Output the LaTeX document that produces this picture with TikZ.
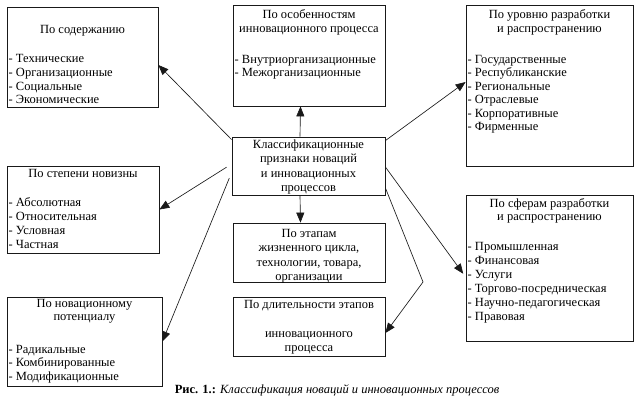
\documentclass[tikz,border=0pt]{standalone}
\usepackage{fontspec}
\setmainfont{Liberation Serif}
\usetikzlibrary{arrows.meta,calc}
\begin{document}
\begin{tikzpicture}[x=1pt,y=-1pt,
  box/.style={draw=black!90,line width=0.8pt,inner sep=0pt,fill=none},
  tl/.style={anchor=base,inner sep=0pt,font=\fontsize{12.5}{14}\selectfont,text=black},
  il/.style={anchor=base west,inner sep=0pt,font=\fontsize{12.5}{14}\selectfont,text=black},
  conn/.style={draw=black!90,line width=0.65pt,-{Triangle[length=10pt,width=8pt]}}]
\useasboundingbox (0,0) rectangle (637,405);
\fill[white] (0,0) rectangle (637,405);
% boxes
\node[box,minimum width=151pt,minimum height=100pt] (b1) at (82.5,57) {};
\node[box,minimum width=152pt,minimum height=101pt] (b2) at (309,55.5) {};
\node[box,minimum width=167pt,minimum height=161pt] (b3) at (549.5,85.5) {};
\node[box,minimum width=153pt,minimum height=58pt] (C) at (308.5,166) {};
\node[box,minimum width=152pt,minimum height=87pt] (b4) at (83,209.5) {};
\node[box,minimum width=152pt,minimum height=59pt] (b5) at (309,252.5) {};
\node[box,minimum width=152pt,minimum height=59pt] (b6) at (309,326.5) {};
\node[box,minimum width=167pt,minimum height=146pt] (b7) at (549.5,268) {};
\node[box,minimum width=155pt,minimum height=89pt] (b8) at (84.5,341.5) {};
% box 1
\node[tl] (t1) at (82.5,33) {По содержанию};
\foreach \t [count=\i] in {Технические,Организационные,Социальные,Экономические}
  \node[il,name=b1i\i] at (8.5,{62.5+13.8*(\i-1)}) {- \t};
% box 2
\node[tl] (t2a) at (309,18) {По особенностям};
\node[tl] (t2b) at (309,32.5) {инновационного процесса};
\foreach \t [count=\i] in {Внутриорганизационные,Межорганизационные}
  \node[il,name=b2i\i] at (234.5,{63+13.6*(\i-1)}) {- \t};
% box 3
\node[tl] (t3a) at (549.5,18) {По уровню разработки};
\node[tl] (t3b) at (549.5,32) {и распространению};
\foreach \t [count=\i] in {Государственные,Республиканские,Региональные,Отраслевые,Корпоративные,Фирменные}
  \node[il,name=b3i\i] at (467.5,{63+13.5*(\i-1)}) {- \t};
% center
\foreach \t [count=\i] in {Классификационные,признаки новаций,и инновационных,процессов}
  \node[tl,name=c\i] at (308.5,{148+14.6*(\i-1)}) {\t};
% box 4
\node[tl] (t4) at (83,177) {По степени новизны};
\foreach \t [count=\i] in {Абсолютная,Относительная,Условная,Частная}
  \node[il,name=b4i\i] at (8.5,{206+14.3*(\i-1)}) {- \t};
% box 5
\foreach \t [count=\i] in {По этапам,{жизненного цикла,},{технологии, товара,},организации}
  \node[tl,name=e\i] at (309,{237+14.5*(\i-1)}) {\t};
% box 6
\node[tl] (t6a) at (309,308) {По длительности этапов};
\node[tl] (t6b) at (309,337) {инновационного};
\node[tl] (t6c) at (309,351.5) {процесса};
% box 7
\node[tl] (t7a) at (549.5,207) {По сферам разработки};
\node[tl] (t7b) at (549.5,220.5) {и распространению};
\foreach \t [count=\i] in {Промышленная,Финансовая,Услуги,Торгово-посредническая,Научно-педагогическая,Правовая}
  \node[il,name=b7i\i] at (467.5,{250+14*(\i-1)}) {- \t};
% box 8
\node[tl] (t8a) at (84.5,307) {По новационному};
\node[tl] (t8b) at (84.5,320.5) {потенциалу};
\foreach \t [count=\i] in {Радикальные,Комбинированные,Модификационные}
  \node[il,name=b8i\i] at (8.5,{353+13.5*(\i-1)}) {- \t};
% caption
\node[tl,font=\fontsize{12.5}{14}\selectfont] (cap) at (337,393) {\textbf{Рис. 1.:} \textit{Классификация новаций и инновационных процессов}};
% connectors
\coordinate (k) at (423,282);
\draw[conn] ([yshift=-3pt]C.north west) -- ([yshift=-8pt]b1.east);
\draw[conn] ([xshift=-8.5pt]C.north) -- ([xshift=-8.5pt]b2.south);
\draw[conn] ([yshift=-4pt]C.north east) -- ([yshift=3.5pt]b3.west);
\draw[conn,shorten <=6pt] ([yshift=2pt]C.west) -- (b4.east);
\draw[conn,shorten <=6pt] ([yshift=-6.5pt]C.west) -- (b8.east);
\draw[conn] ([xshift=-8.5pt]C.south) -- ([xshift=-8.5pt]b5.north);
\draw[conn,shorten >=4pt] ([yshift=-1pt]C.east) -- ([yshift=-9pt]b7.west);
\draw[conn] ([yshift=-22pt]C.east) -- (k) -- ([yshift=-6.5pt]b6.east);
\end{tikzpicture}
\end{document}
